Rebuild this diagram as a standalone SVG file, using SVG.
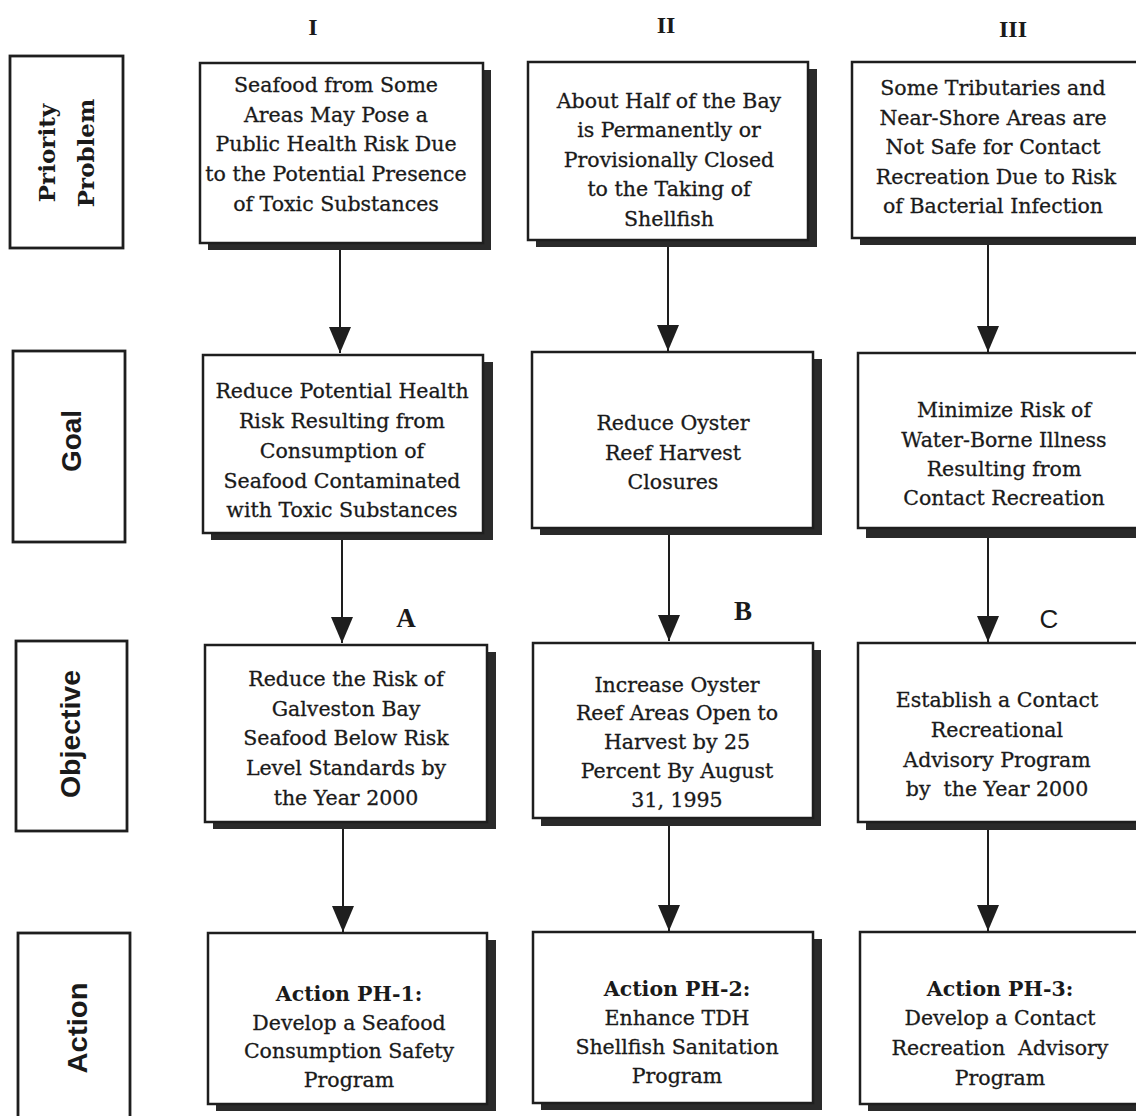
<svg xmlns="http://www.w3.org/2000/svg" width="1136" height="1116" viewBox="0 0 1136 1116">
  <style>
    .box { fill: #ffffff; stroke: #1e1e1e; stroke-width: 2.5; }
    .shadow { fill: #2a2a2a; }
    .label { fill: #ffffff; stroke: #1e1e1e; stroke-width: 2.8; }
    .t { font-family: "DejaVu Serif", "Liberation Serif", serif; font-size: 20.5px; fill: #1a1a1a; stroke: #1a1a1a; stroke-width: 0.3; text-anchor: middle; }
    .tb { font-weight: bold; stroke-width: 0; }
    .hdr { font-family: "Liberation Serif", serif; font-weight: bold; font-size: 24px; fill: #1a1a1a; text-anchor: middle; }
    .letter { font-family: "Liberation Serif", serif; font-weight: bold; font-size: 27px; fill: #1a1a1a; text-anchor: middle; }
    .side-serif { font-family: "DejaVu Serif", serif; font-weight: bold; font-size: 23px; fill: #1a1a1a; text-anchor: middle; }
    .side-sans { font-family: "Liberation Sans", sans-serif; font-weight: bold; font-size: 28px; fill: #1a1a1a; text-anchor: middle; }
    .conn { stroke: #1e1e1e; stroke-width: 2; fill: none; marker-end: url(#head); }
  </style>
  <defs>
    <!-- filled arrowhead, tip at the end of the line -->
    <marker id="head" markerUnits="userSpaceOnUse" markerWidth="26" markerHeight="22" viewBox="0 0 26 22" refX="26" refY="11" orient="auto">
      <path d="M0,0 L26,11 L0,22 Z" fill="#1e1e1e"/>
    </marker>
  </defs>
  <rect width="1136" height="1116" fill="#ffffff"/>

  <!-- column headings -->
  <g id="headings">
    <text class="hdr" x="313" y="35">I</text>
    <text class="hdr" x="666" y="33">II</text>
    <text class="hdr" x="1013" y="37">III</text>
  </g>

  <!-- row labels on the left -->
  <g id="row-priority-problem">
    <rect class="label" x="10" y="56" width="113" height="192"/>
    <text class="side-serif" transform="translate(55 153) rotate(-90)">Priority</text>
    <text class="side-serif" transform="translate(94 153) rotate(-90)">Problem</text>
  </g>
  <g id="row-goal">
    <rect class="label" x="13" y="351" width="112" height="191"/>
    <text class="side-sans" transform="translate(81 441) rotate(-90)" textLength="62" lengthAdjust="spacingAndGlyphs">Goal</text>
  </g>
  <g id="row-objective">
    <rect class="label" x="16" y="641" width="111" height="190"/>
    <text class="side-sans" transform="translate(80 734) rotate(-90)" textLength="128" lengthAdjust="spacingAndGlyphs">Objective</text>
  </g>
  <g id="row-action">
    <rect class="label" x="18" y="933" width="112" height="190"/>
    <text class="side-sans" transform="translate(87 1028) rotate(-90)" textLength="91" lengthAdjust="spacingAndGlyphs">Action</text>
  </g>

  <!-- connectors -->
  <g id="connectors">
    <line class="conn" x1="340" y1="250" x2="340" y2="353"/>
    <line class="conn" x1="668" y1="247" x2="668" y2="351"/>
    <line class="conn" x1="988" y1="245" x2="988" y2="352"/>
    <line class="conn" x1="342" y1="540" x2="342" y2="643"/>
    <line class="conn" x1="669" y1="535" x2="669" y2="641"/>
    <line class="conn" x1="988" y1="535" x2="988" y2="642"/>
    <line class="conn" x1="343" y1="829" x2="343" y2="932"/>
    <line class="conn" x1="669" y1="825" x2="669" y2="931"/>
    <line class="conn" x1="988" y1="829" x2="988" y2="931"/>
  </g>

  <!-- objective letters -->
  <g id="letters">
    <text class="letter" x="406" y="627">A</text>
    <text class="letter" x="743" y="620">B</text>
    <text class="letter" x="1049" y="628" style="font-weight:normal;font-family:'Liberation Sans',sans-serif;font-size:26px">C</text>
  </g>

  <!-- Column I -->
  <g id="problem-1">
    <rect class="shadow" x="208" y="70" width="283" height="180"/>
    <rect class="box" x="200" y="63" width="283" height="180"/>
    <text class="t" x="336" y="92">Seafood from Some</text>
    <text class="t" x="336" y="122">Areas May Pose a</text>
    <text class="t" x="336" y="151">Public Health Risk Due</text>
    <text class="t" x="336" y="181">to the Potential Presence</text>
    <text class="t" x="336" y="211">of Toxic Substances</text>
  </g>
  <g id="goal-1">
    <rect class="shadow" x="211" y="362" width="282" height="178"/>
    <rect class="box" x="203" y="355" width="280" height="178"/>
    <text class="t" x="342" y="398">Reduce Potential Health</text>
    <text class="t" x="342" y="428">Risk Resulting from</text>
    <text class="t" x="342" y="458">Consumption of</text>
    <text class="t" x="342" y="488">Seafood Contaminated</text>
    <text class="t" x="342" y="517">with Toxic Substances</text>
  </g>
  <g id="objective-1">
    <rect class="shadow" x="213" y="652" width="283" height="177"/>
    <rect class="box" x="205" y="645" width="282" height="177"/>
    <text class="t" x="346" y="686">Reduce the Risk of</text>
    <text class="t" x="346" y="716">Galveston Bay</text>
    <text class="t" x="346" y="745">Seafood Below Risk</text>
    <text class="t" x="346" y="775">Level Standards by</text>
    <text class="t" x="346" y="805">the Year 2000</text>
  </g>
  <g id="action-1">
    <rect class="shadow" x="216" y="940" width="280" height="171"/>
    <rect class="box" x="208" y="933" width="279" height="171"/>
    <text class="t tb" x="349" y="1001">Action PH-1:</text>
    <text class="t" x="349" y="1030">Develop a Seafood</text>
    <text class="t" x="349" y="1058">Consumption Safety</text>
    <text class="t" x="349" y="1087">Program</text>
  </g>

  <!-- Column II -->
  <g id="problem-2">
    <rect class="shadow" x="536" y="69" width="281" height="178"/>
    <rect class="box" x="528" y="62" width="280" height="178"/>
    <text class="t" x="669" y="108">About Half of the Bay</text>
    <text class="t" x="669" y="137">is Permanently or</text>
    <text class="t" x="669" y="167">Provisionally Closed</text>
    <text class="t" x="669" y="196">to the Taking of</text>
    <text class="t" x="669" y="226">Shellfish</text>
  </g>
  <g id="goal-2">
    <rect class="shadow" x="540" y="359" width="282" height="176"/>
    <rect class="box" x="532" y="352" width="281" height="176"/>
    <text class="t" x="673" y="430">Reduce Oyster</text>
    <text class="t" x="673" y="460">Reef Harvest</text>
    <text class="t" x="673" y="489">Closures</text>
  </g>
  <g id="objective-2">
    <rect class="shadow" x="541" y="650" width="280" height="176"/>
    <rect class="box" x="533" y="643" width="280" height="175"/>
    <text class="t" x="677" y="692">Increase Oyster</text>
    <text class="t" x="677" y="720">Reef Areas Open to</text>
    <text class="t" x="677" y="749">Harvest by 25</text>
    <text class="t" x="677" y="778">Percent By August</text>
    <text class="t" x="677" y="807">31, 1995</text>
  </g>
  <g id="action-2">
    <rect class="shadow" x="541" y="939" width="281" height="171"/>
    <rect class="box" x="533" y="932" width="280" height="171"/>
    <text class="t tb" x="677" y="996">Action PH-2:</text>
    <text class="t" x="677" y="1025">Enhance TDH</text>
    <text class="t" x="677" y="1054">Shellfish Sanitation</text>
    <text class="t" x="677" y="1083">Program</text>
  </g>

  <!-- Column III (runs past the right edge) -->
  <g id="problem-3">
    <rect class="shadow" x="860" y="69" width="300" height="176"/>
    <rect class="box" x="852" y="62" width="300" height="176"/>
    <text class="t" x="993" y="95">Some Tributaries and</text>
    <text class="t" x="993" y="125">Near-Shore Areas are</text>
    <text class="t" x="993" y="154">Not Safe for Contact</text>
    <text class="t" x="996" y="184">Recreation Due to Risk</text>
    <text class="t" x="993" y="213">of Bacterial Infection</text>
  </g>
  <g id="goal-3">
    <rect class="shadow" x="866" y="360" width="300" height="178"/>
    <rect class="box" x="858" y="353" width="300" height="175"/>
    <text class="t" x="1004" y="417">Minimize Risk of</text>
    <text class="t" x="1004" y="447">Water-Borne Illness</text>
    <text class="t" x="1004" y="476">Resulting from</text>
    <text class="t" x="1004" y="505">Contact Recreation</text>
  </g>
  <g id="objective-3">
    <rect class="shadow" x="866" y="650" width="300" height="180"/>
    <rect class="box" x="858" y="643" width="300" height="179"/>
    <text class="t" x="997" y="707">Establish a Contact</text>
    <text class="t" x="997" y="737">Recreational</text>
    <text class="t" x="997" y="767">Advisory Program</text>
    <text class="t" x="997" y="796" xml:space="preserve">by  the Year 2000</text>
  </g>
  <g id="action-3">
    <rect class="shadow" x="868" y="939" width="300" height="172"/>
    <rect class="box" x="860" y="932" width="300" height="172"/>
    <text class="t tb" x="1000" y="996">Action PH-3:</text>
    <text class="t" x="1000" y="1025">Develop a Contact</text>
    <text class="t" x="1000" y="1055" xml:space="preserve">Recreation  Advisory</text>
    <text class="t" x="1000" y="1085">Program</text>
  </g>
</svg>
